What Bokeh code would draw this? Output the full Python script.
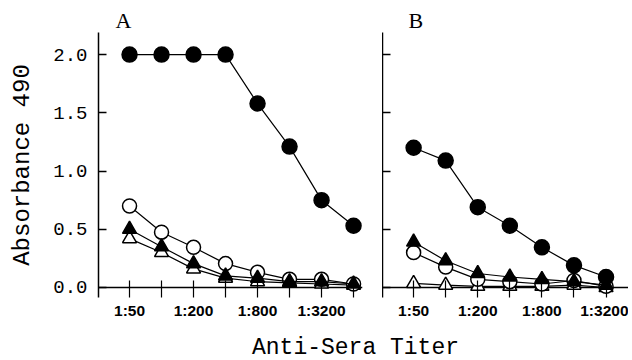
from bokeh.plotting import figure
from bokeh.layouts import row, column
from bokeh.models import Range1d, FixedTicker, Title, Label, NumeralTickFormatter, Span
from bokeh.embed import file_html
from bokeh.resources import INLINE

# ---- data ----
titers = ["1:50", "1:100", "1:200", "1:400", "1:800", "1:1600", "1:3200", "1:6400"]
shown_titers = ["1:50", "1:200", "1:800", "1:3200"]
y_ticks = [0.0, 0.5, 1.0, 1.5, 2.0]

# Panel A (8 dilutions)
a_filled_circle = [2.0, 2.0, 2.0, 2.0, 1.58, 1.21, 0.75, 0.53]
a_open_circle = [0.70, 0.475, 0.345, 0.205, 0.13, 0.07, 0.07, 0.03]
a_filled_triangle = [0.50, 0.35, 0.205, 0.10, 0.08, 0.05, 0.05, 0.03]
a_open_triangle = [0.42, 0.30, 0.16, 0.08, 0.05, 0.04, 0.03, 0.02]

# Panel B (7 dilutions)
b_filled_circle = [1.20, 1.09, 0.69, 0.53, 0.345, 0.19, 0.09]
b_open_circle = [0.30, 0.175, 0.07, 0.05, 0.03, 0.06, 0.01]
b_filled_triangle = [0.39, 0.23, 0.12, 0.09, 0.07, 0.05, 0.02]
b_open_triangle = [0.035, 0.02, 0.01, 0.01, 0.01, 0.02, 0.0]

MONO = "Liberation Mono"
SERIF = "Liberation Serif"
SANS = "Liberation Sans"


def make_panel(name, series, n_ticks, x_end, frame_w, border_left, border_right,
               title_offset, show_ylabels):
    p = figure(frame_width=frame_w, frame_height=265,
               output_backend="svg", toolbar_location=None,
               x_range=Range1d(-0.97, x_end), y_range=Range1d(-0.086, 2.19),
               min_border_left=border_left, min_border_right=border_right,
               min_border_top=32, min_border_bottom=25)
    p.title = Title(text=name, align="left", offset=title_offset, standoff=0,
                    text_font=SERIF, text_font_size="22px", text_font_style="normal",
                    text_color="black")
    p.grid.visible = False
    p.outline_line_color = None
    p.background_fill_color = "white"
    p.border_fill_color = "white"

    # axis line along zero
    p.add_layout(Span(location=0, dimension="width", line_color="black",
                      line_width=1.5, level="underlay"))

    idx = list(range(n_ticks))
    xa = p.xaxis[0]
    xa.ticker = FixedTicker(ticks=idx)
    overrides = {}
    for i in idx:
        lab = titers[i]
        overrides[i] = lab if lab in shown_titers else ""
    xa.major_label_overrides = overrides
    xa.axis_line_color = None
    xa.major_tick_in = 17
    xa.major_tick_out = 0
    xa.minor_tick_line_color = None
    xa.major_tick_line_width = 1.2
    xa.major_label_text_font = SANS
    xa.major_label_text_font_style = "bold"
    xa.major_label_text_font_size = "15.5px"
    xa.major_label_text_color = "black"
    xa.major_label_standoff = 4

    ya = p.yaxis[0]
    ya.ticker = FixedTicker(ticks=y_ticks)
    ya.major_tick_in = 8
    ya.major_tick_out = 0
    ya.minor_tick_line_color = None
    ya.axis_line_width = 1.5
    ya.major_tick_line_width = 1.5
    if show_ylabels:
        ya.formatter = NumeralTickFormatter(format="0.0")
        ya.major_label_text_font = MONO
        ya.major_label_text_font_size = "19px"
        ya.major_label_text_color = "black"
        ya.major_label_standoff = 11
        ya.axis_label = "Absorbance 490"
        ya.axis_label_text_font = MONO
        ya.axis_label_text_font_size = "24px"
        ya.axis_label_text_font_style = "normal"
        ya.axis_label_text_color = "black"
        ya.axis_label_standoff = 14
    else:
        ya.major_label_overrides = {t: "" for t in y_ticks}
        ya.major_label_text_font_size = "1px"
        ya.major_label_standoff = 0

    styles = [
        ("open_triangle", "triangle", "white", 14),
        ("open_circle", "circle", "white", 14),
        ("filled_triangle", "triangle", "black", 14),
        ("filled_circle", "circle", "black", 15),
    ]
    for key, marker, fill, size in styles:
        ys = series[key]
        xs = list(range(len(ys)))
        p.line(xs, ys, line_color="black", line_width=1.2)
        p.scatter(xs, ys, marker=marker, size=size, fill_color=fill,
                  line_color="black", line_width=1.5)
    return p


pA = make_panel("A", {
    "filled_circle": a_filled_circle, "open_circle": a_open_circle,
    "filled_triangle": a_filled_triangle, "open_triangle": a_open_triangle,
}, 8, 7.28, 264, 98, 20, 17, True)

pB = make_panel("B", {
    "filled_circle": b_filled_circle, "open_circle": b_open_circle,
    "filled_triangle": b_filled_triangle, "open_triangle": b_open_triangle,
}, 7, 6.7, 246, 0, 0, 26, False)

pT = figure(width=632, height=38, output_backend="svg", toolbar_location=None,
            x_range=Range1d(0, 1), y_range=Range1d(0, 1),
            min_border_left=0, min_border_right=0, min_border_top=0, min_border_bottom=0)
pT.axis.visible = False
pT.grid.visible = False
pT.outline_line_color = None
pT.add_layout(Label(x=355, y=0, x_units="screen", y_units="screen",
                    text="Anti-Sera Titer", text_align="center", text_baseline="bottom",
                    text_font=MONO, text_font_size="23px", text_color="black"))

layout = column(row(pA, pB), pT)
open("out.html", "w").write(file_html(layout, INLINE))
